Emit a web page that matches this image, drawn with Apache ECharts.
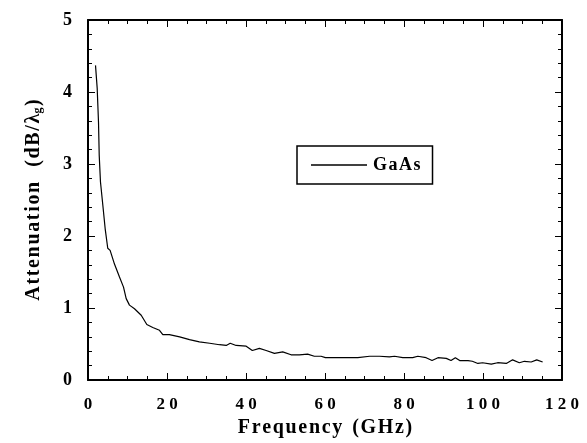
<!DOCTYPE html>
<html>
<head>
<meta charset="utf-8">
<script src="https://cdn.jsdelivr.net/npm/echarts@6/dist/echarts.min.js"></script>
<style>
  html, body { margin: 0; padding: 0; background: #fff; }
  #chart { width: 587px; height: 443px; }
</style>
</head>
<body>
<div id="chart"></div>
<script>
// frequency in GHz, attenuation in dB per guided wavelength
var freq = [1.9, 2.33, 2.66, 2.84, 3.16, 3.75, 4.35, 5.0, 5.6, 6.7, 7.97, 8.99, 9.67, 10.5, 11.77,
  13.47, 14.89, 16.4, 18.1, 18.94, 20.6, 23.2, 25.7, 28.2, 30.8, 33.3, 35.0, 36.0, 37.5, 40.05,
  41.6, 43.4, 45.1, 47.2, 49.3, 51.4, 53.5, 55.6, 57.3, 59.0, 60.1, 68.3, 71.3, 73.8, 76.3,
  77.6, 79.7, 82.2, 83.5, 85.6, 87.1, 88.6, 90.7, 91.9, 93.0, 94.1, 96.2, 97.3, 98.7, 99.9,
  102.1, 103.7, 105.9, 107.5, 109.2, 110.5, 112.2, 113.6, 115.1];
var atten = [4.37, 4.05, 3.58, 3.12, 2.75, 2.43, 2.10, 1.83, 1.80, 1.61, 1.43, 1.29, 1.13, 1.04, 0.99,
  0.90, 0.77, 0.73, 0.69, 0.63, 0.63, 0.60, 0.56, 0.53, 0.51, 0.49, 0.48, 0.51, 0.48, 0.47,
  0.41, 0.44, 0.41, 0.37, 0.39, 0.35, 0.35, 0.36, 0.33, 0.33, 0.31, 0.31, 0.33, 0.33, 0.32,
  0.33, 0.31, 0.31, 0.33, 0.31, 0.27, 0.31, 0.30, 0.27, 0.31, 0.27, 0.27, 0.26, 0.23, 0.24,
  0.22, 0.24, 0.23, 0.28, 0.24, 0.26, 0.25, 0.28, 0.25];

var xTicks = [0, 20, 40, 60, 80, 100, 120];
var yTicks = [0, 1, 2, 3, 4, 5];

var chart = echarts.init(document.getElementById('chart'));

var serif = '"Liberation Serif", "DejaVu Serif", serif';
var HAIR = '\u200a';

// the original lettering is a little spread out
function spread(s) { return s.split('').join(HAIR); }

var points = [];
for (var i = 0; i < freq.length; i++) {
  points.push([freq[i], atten[i]]);
}

// shared look for the framed axes (ticks point inward on all four sides)
function frameAxis(extra, minorSplit) {
  var base = {
    type: 'value',
    axisLine: { show: true, onZero: false, lineStyle: { color: '#000', width: 2 } },
    axisTick: { show: true, inside: true, length: 7, lineStyle: { color: '#000', width: 1 } },
    minorTick: { show: true, splitNumber: minorSplit, length: 4, lineStyle: { color: '#000', width: 1 } },
    splitLine: { show: false },
    minorSplitLine: { show: false }
  };
  for (var k in extra) base[k] = extra[k];
  return base;
}

option = {
  animation: false,
  backgroundColor: '#fff',
  grid: { left: 88, right: 25, top: 20, bottom: 63 },
  legend: {
    data: ['GaAs'],
    left: 297,
    top: 146,
    icon: 'rect',
    itemWidth: 56,
    itemHeight: 1.3,
    itemGap: 0,
    padding: [10, 12, 10, 14],
    borderColor: '#000',
    borderWidth: 1.5,
    formatter: function (name) { return spread(name); },
    textStyle: { color: '#000', fontFamily: serif, fontWeight: 'bold', fontSize: 18, lineHeight: 17, padding: [0, 0, 0, 1] }
  },
  xAxis: [
    frameAxis({
      min: xTicks[0], max: xTicks[xTicks.length - 1], interval: 20,
      axisLabel: {
        margin: 16,
        color: '#000', fontFamily: serif, fontWeight: 'bold', fontSize: 17,
        formatter: function (v) { return String(v).split('').join(' '); }
      },
      name: spread('Frequency') + '  ' + spread('(GHz)'),
      nameLocation: 'middle',
      nameGap: 16,
      nameTextStyle: { color: '#000', fontFamily: serif, fontWeight: 'bold', fontSize: 20 }
    }, 4),
    frameAxis({
      position: 'top',
      min: xTicks[0], max: xTicks[xTicks.length - 1], interval: 20,
      axisLabel: { show: false }
    }, 4)
  ],
  yAxis: [
    frameAxis({
      min: yTicks[0], max: yTicks[yTicks.length - 1], interval: 1,
      axisLabel: { margin: 16, color: '#000', fontFamily: serif, fontWeight: 'bold', fontSize: 18 },
      name: spread('Attenuation') + '   ' + spread('(dB/\u03bb') + '{sub|g}' + HAIR + ')',
      nameLocation: 'middle',
      nameGap: 44,
      nameTextStyle: {
        color: '#000', fontFamily: serif, fontWeight: 'bold', fontSize: 20,
        rich: {
          sub: { fontFamily: serif, fontWeight: 'bold', fontSize: 12, lineHeight: 8, verticalAlign: 'bottom', color: '#000' }
        }
      }
    }, 5),
    frameAxis({
      position: 'right',
      min: yTicks[0], max: yTicks[yTicks.length - 1], interval: 1,
      axisLabel: { show: false }
    }, 5)
  ],
  series: [
    {
      name: 'GaAs',
      type: 'line',
      xAxisIndex: 0,
      yAxisIndex: 0,
      symbol: 'none',
      lineStyle: { color: '#000', width: 1.2 },
      itemStyle: { color: '#000' },
      data: points
    }
  ]
};

chart.setOption(option);
</script>
</body>
</html>
